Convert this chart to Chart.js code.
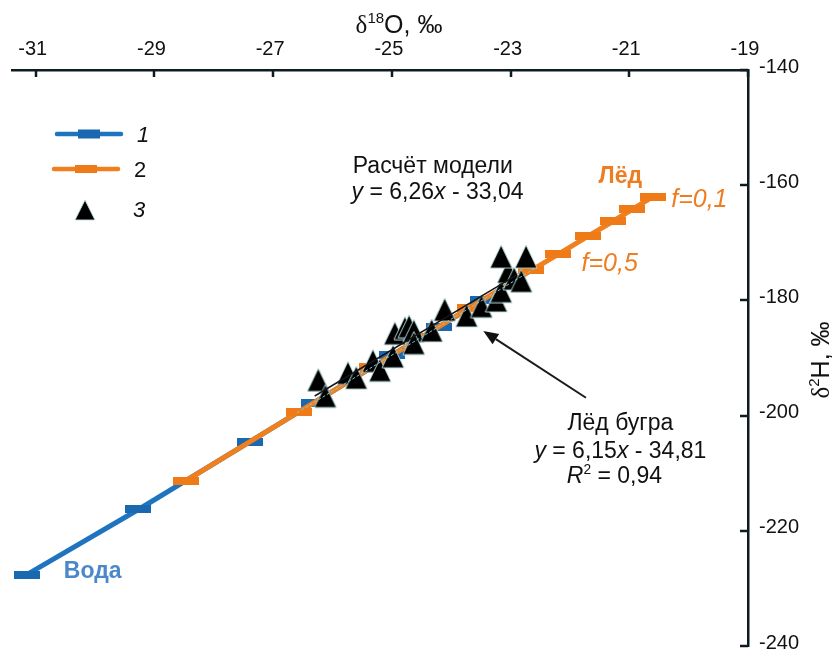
<!DOCTYPE html>
<html><head><meta charset="utf-8">
<script src="https://cdn.jsdelivr.net/npm/chart.js@4.4.1/dist/chart.umd.min.js"></script>
<style>html,body{margin:0;padding:0;background:#fff}canvas{display:block}</style>
</head><body>
<canvas id="c" width="832" height="658"></canvas>
<script>
// ---- data ----
const xTicks = [-31, -29, -27, -25, -23, -21, -19];
const yTicks = [-240, -220, -200, -180, -160, -140];

// 1 – model: water
const waterX = [-31.15, -29.27, -27.39, -26.32, -25.00, -24.21, -23.46];
const waterY = [-227.6, -216.3, -204.5, -197.8, -189.5, -184.6, -179.9];

// 2 – model: ice
const iceX = [-28.47, -26.56, -25.33, -24.50, -23.69, -22.65, -22.20, -21.70, -21.28, -20.95, -20.60];
const iceY = [-211.3, -199.3, -191.6, -186.4, -181.3, -174.8, -172.0, -168.9, -166.3, -164.2, -162.0];

// 3 – mound ice samples
const moundX = [-26.24, -26.12, -25.74, -25.60, -25.32, -25.20, -24.98, -24.95, -24.78, -24.71, -24.63, -24.63,
                -24.33, -24.11, -23.74, -23.49, -23.24, -23.16, -23.04, -22.94, -22.82, -23.16, -22.74];
const moundY = [-193.8, -196.6, -192.6, -193.4, -190.5, -192.1, -189.7, -185.7, -184.8, -184.5, -185.3, -187.4,
                -185.2, -181.6, -182.6, -181.0, -180.0, -178.4, -175.0, -176.2, -176.6, -172.4, -172.4];

// regression line through the samples (end points)
const trendX = [-26.30, -22.90];
const trendY = [-196.6, -175.6];
// faint dotted guide line over the samples (end points)
const guideX = [-26.60, -22.60];
const guideY = [-199.5, -174.5];

const legendLabels = ['1', '2', '3'];

// ---- styling ----
const FF = '"Liberation Sans", Arial, Helvetica, sans-serif';
const BLUE = '#1f74bf', BLUE_M = '#1a69b0', ORANGE = '#f07f1e', ORANGE_M = '#ef7a18';
const INK = '#111';

function font(st, size) {
  if (st.includes('g')) return `${size}px "Liberation Serif", "Times New Roman", serif`;
  let s = '';
  if (st.includes('i')) s += 'italic ';
  if (st.includes('b')) s += 'bold ';
  return `${s}${size}px ${FF}`;
}
// runs: [text, style] ; style chars: i italic, b bold, ^ superscript, g greek serif
function drawRuns(ctx, runs, cx, cy, size, color, align) {
  ctx.save();
  ctx.fillStyle = color;
  ctx.textBaseline = 'alphabetic';
  let w = 0;
  const parts = runs.map(([t, st = '']) => {
    const sup = st.includes('^');
    const sz = sup ? size * 0.6 : size;
    ctx.font = font(st, sz);
    const m = ctx.measureText(t).width;
    w += m;
    return { t, st, sz, sup, m };
  });
  let x = align === 'left' ? cx : cx - w / 2;
  const base = cy + size * 0.36;
  for (const p of parts) {
    ctx.font = font(p.st, p.sz);
    ctx.fillText(p.t, x, p.sup ? base - size * 0.42 : base);
    x += p.m;
  }
  ctx.restore();
}
function rectMarker(w, h, color) {
  const c = document.createElement('canvas');
  c.width = w; c.height = h;
  const g = c.getContext('2d');
  g.fillStyle = color;
  g.fillRect(0, 0, w, h);
  return c;
}
function triMarker(w, h) {
  const c = document.createElement('canvas');
  c.width = w + 2; c.height = h + 2;
  const g = c.getContext('2d');
  g.beginPath();
  g.moveTo(c.width / 2, 1);
  g.lineTo(c.width - 1, c.height - 1);
  g.lineTo(1, c.height - 1);
  g.closePath();
  g.fillStyle = '#000';
  g.fill();
  g.strokeStyle = 'rgba(190,225,225,0.9)';
  g.lineWidth = 1;
  g.stroke();
  return c;
}
const blueMark = rectMarker(26, 8, BLUE_M);
const orangeMark = rectMarker(26, 8, ORANGE_M);
const triMark = triMarker(22, 23);
const triLegend = triMarker(20, 20);

// annotation texts, anchored in data coordinates
const notes = [
  { x: -24.31, y: -156.4, size: 23, color: INK, runs: [['Расчёт модели']] },
  { x: -24.23, y: -160.9, size: 23, color: INK, runs: [['y', 'i'], [' = 6,26'], ['x', 'i'], [' - 33,04']] },
  { x: -21.15, y: -158.1, size: 23, color: '#ee7d22', runs: [['Лёд', 'b']] },
  { x: -19.82, y: -162.2, size: 25, color: '#ee7d22', runs: [['f=0,1', 'i']] },
  { x: -21.33, y: -173.3, size: 25, color: '#ee7d22', runs: [['f=0,5', 'i']] },
  { x: -30.04, y: -226.7, size: 23, color: '#4a88c9', runs: [['Вода', 'b']] },
  { x: -21.15, y: -201.0, size: 23, color: INK, runs: [['Лёд бугра']] },
  { x: -21.15, y: -205.9, size: 23, color: INK, runs: [['y', 'i'], [' = 6,15'], ['x', 'i'], [' - 34,81']] },
  { x: -21.25, y: -210.3, size: 23, color: INK, runs: [['R', 'i'], ['2', '^'], [' = 0,94']] }
];
const arrowFrom = { x: -21.73, y: -196.9 };
const arrowTo = { x: -23.46, y: -185.3 };

const decor = {
  id: 'decor',
  afterDatasetsDraw(chart) {
    const { ctx, chartArea: a, scales: { x, y } } = chart;
    ctx.save();
    // inward tick marks
    ctx.strokeStyle = '#0c1c20';
    ctx.lineWidth = 2.5;
    xTicks.forEach(v => {
      const px = Math.round(x.getPixelForValue(v));
      ctx.beginPath(); ctx.moveTo(px, a.top); ctx.lineTo(px, a.top + 7); ctx.stroke();
    });
    yTicks.forEach(v => {
      const py = Math.round(y.getPixelForValue(v));
      ctx.beginPath(); ctx.moveTo(a.right, py); ctx.lineTo(a.right - 8, py); ctx.stroke();
    });
    // arrow
    const x0 = x.getPixelForValue(arrowFrom.x), y0 = y.getPixelForValue(arrowFrom.y);
    const x1 = x.getPixelForValue(arrowTo.x), y1 = y.getPixelForValue(arrowTo.y);
    const ang = Math.atan2(y1 - y0, x1 - x0);
    const L = 15, W = 6;
    const bx = x1 - L * Math.cos(ang), by = y1 - L * Math.sin(ang);
    ctx.strokeStyle = '#1a1a1a'; ctx.lineWidth = 2;
    ctx.beginPath(); ctx.moveTo(x0, y0); ctx.lineTo(bx, by); ctx.stroke();
    ctx.fillStyle = '#111';
    ctx.beginPath();
    ctx.moveTo(x1, y1);
    ctx.lineTo(bx + W * Math.sin(ang), by - W * Math.cos(ang));
    ctx.lineTo(bx - W * Math.sin(ang), by + W * Math.cos(ang));
    ctx.closePath(); ctx.fill();
    // notes
    notes.forEach(n => drawRuns(ctx, n.runs, x.getPixelForValue(n.x), y.getPixelForValue(n.y), n.size, n.color));
    // axis titles
    drawRuns(ctx, [['δ', 'g'], ['18', '^'], ['O, ‰']], 399, 24, 25, INK);
    ctx.save();
    ctx.translate(820, 360);
    ctx.rotate(-Math.PI / 2);
    drawRuns(ctx, [['δ', 'g'], ['2', '^'], ['H, ‰']], 0, 0, 25, INK);
    ctx.restore();
    // legend
    ctx.lineCap = 'round';
    ctx.strokeStyle = BLUE; ctx.lineWidth = 4.5;
    ctx.beginPath(); ctx.moveTo(57, 134); ctx.lineTo(121, 134); ctx.stroke();
    ctx.fillStyle = BLUE_M; ctx.fillRect(78, 129.5, 22, 9);
    ctx.strokeStyle = ORANGE;
    ctx.beginPath(); ctx.moveTo(54, 169); ctx.lineTo(118, 169); ctx.stroke();
    ctx.fillStyle = ORANGE_M; ctx.fillRect(75, 165, 22, 8);
    ctx.drawImage(triLegend, 85 - triLegend.width / 2, 210 - triLegend.height / 2);
    drawRuns(ctx, [[legendLabels[0], 'i']], 137, 134, 22, INK, 'left');
    drawRuns(ctx, [[legendLabels[1]]], 134, 169, 22, INK, 'left');
    drawRuns(ctx, [[legendLabels[2], 'i']], 133, 209, 22, INK, 'left');
    ctx.restore();
  }
};

const pts = (xs, ys) => xs.map((v, i) => ({ x: v, y: ys[i] }));

new Chart(document.getElementById('c'), {
  type: 'scatter',
  data: {
    datasets: [
      { label: legendLabels[0], data: pts(waterX, waterY), showLine: true, borderColor: BLUE, borderWidth: 5,
        pointStyle: blueMark, pointRadius: 6, pointHoverRadius: 6, order: 5 },
      { label: legendLabels[1], data: pts(iceX, iceY), showLine: true, borderColor: ORANGE, borderWidth: 5,
        pointStyle: orangeMark, pointRadius: 6, pointHoverRadius: 6, order: 4 },
      { label: legendLabels[2], data: pts(moundX, moundY), showLine: false,
        pointStyle: triMark, pointRadius: 11, pointHoverRadius: 11, order: 3 },
      { label: 'trend', data: pts(trendX, trendY), showLine: true, borderColor: '#151515', borderWidth: 1.5,
        pointRadius: 0, pointHoverRadius: 0, order: 2 },
      { label: 'guide', data: pts(guideX, guideY), showLine: true, borderColor: 'rgba(130,205,215,0.95)',
        borderWidth: 1, borderDash: [3, 2], pointRadius: 0, pointHoverRadius: 0, order: 1 }
    ]
  },
  options: {
    responsive: false,
    animation: false,
    devicePixelRatio: 1,
    events: [],
    layout: { padding: { left: 8, bottom: 8, top: 0, right: 0 } },
    plugins: { legend: { display: false }, tooltip: { enabled: false } },
    scales: {
      x: {
        type: 'linear', position: 'top', min: -31.4, max: -19,
        afterBuildTicks: s => { s.ticks = xTicks.map(v => ({ value: v })); },
        afterFit: s => { s.height = 70; s.paddingLeft = 0; s.paddingRight = 0; },
        grid: { display: false, drawTicks: false },
        border: { display: true, color: '#0c1c20', width: 2.5 },
        ticks: { font: { family: FF, size: 20 }, color: INK, padding: 9, labelOffset: -3,
                 maxRotation: 0, autoSkip: false, callback: v => String(v) }
      },
      y: {
        type: 'linear', position: 'right', min: -240, max: -140,
        afterBuildTicks: s => { s.ticks = yTicks.map(v => ({ value: v })); },
        afterFit: s => { s.width = 84; s.paddingTop = 0; s.paddingBottom = 0; },
        grid: { display: false, drawTicks: false },
        border: { display: true, color: '#0c1c20', width: 2.5 },
        ticks: { font: { family: FF, size: 20 }, color: INK, padding: 11, labelOffset: -3,
                 autoSkip: false, callback: v => String(v) }
      }
    }
  },
  plugins: [decor]
});
</script>
</body></html>
